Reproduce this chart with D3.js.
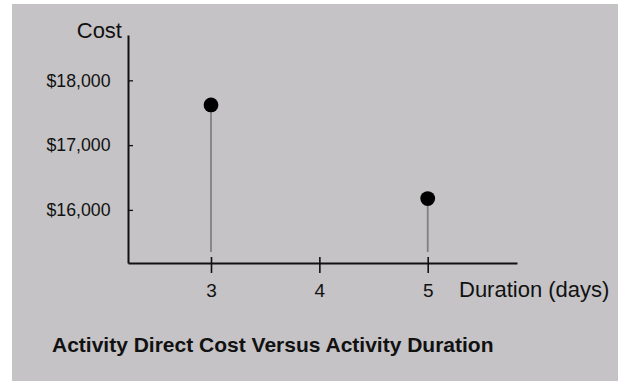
<!DOCTYPE html>
<html>
<head>
<meta charset="utf-8">
<script src="https://cdn.jsdelivr.net/npm/d3@7"></script>
<style>
  html, body { margin: 0; padding: 0; background: #ffffff; }
  svg { display: block; }
  text { font-family: "Liberation Sans", Arial, sans-serif; fill: #111; }
</style>
</head>
<body>
<svg id="chart" width="618" height="381"></svg>
<script>
// ---- data ----
const durations = [3, 5];
const costs = [17620, 16175];
const xTickValues = [3, 4, 5];
const yTickValues = [16000, 17000, 18000];
const yTickLabels = ["$16,000", "$17,000", "$18,000"];
const xTitle = "Duration (days)";
const yTitle = "Cost";
const chartTitle = "Activity Direct Cost Versus Activity Duration";

const svg = d3.select("#chart");

// background panel
svg.append("rect")
  .attr("x", 12).attr("y", 4)
  .attr("width", 606).attr("height", 377)
  .attr("fill", "#c5c3c6");

const x = d3.scaleLinear().domain([2.234, 5.824]).range([128, 517]);
const y = d3.scaleLinear().domain([15180, 18700]).range([263, 35]);

// y axis
const yAxis = d3.axisLeft(y)
  .tickValues(yTickValues)
  .tickFormat((d, i) => yTickLabels[i])
  .tickSizeInner(-5)
  .tickSizeOuter(0)
  .tickPadding(17.5);
const gy = svg.append("g").attr("transform", "translate(128,0)").call(yAxis);
gy.select(".domain").attr("stroke", "#111").attr("stroke-width", 2);
gy.selectAll(".tick line").attr("stroke", "#111").attr("stroke-width", 1.3);
gy.selectAll(".tick text")
  .attr("font-size", 19)
  .attr("font-family", "Liberation Sans, Arial, sans-serif")
  .attr("fill", "#111")
  .attr("textLength", 64)
  .attr("lengthAdjust", "spacingAndGlyphs")
  .attr("dy", "0.3em");

// x axis
const xAxis = d3.axisBottom(x)
  .tickValues(xTickValues)
  .tickFormat(d3.format("d"))
  .tickSizeInner(10)
  .tickSizeOuter(0);
const gx = svg.append("g").attr("transform", "translate(0,263)").call(xAxis);
gx.select(".domain").attr("stroke", "#111").attr("stroke-width", 2);
gx.selectAll(".tick line").attr("stroke", "#111").attr("stroke-width", 1.6).attr("y1", -6);
gx.selectAll(".tick text")
  .attr("font-size", 19)
  .attr("font-family", "Liberation Sans, Arial, sans-serif")
  .attr("fill", "#111")
  .attr("y", 34).attr("dy", 0);

// axis titles
svg.append("text")
  .attr("x", 122).attr("y", 37.5)
  .attr("text-anchor", "end")
  .attr("font-size", 22)
  .text(yTitle);

svg.append("text")
  .attr("x", 459).attr("y", 297)
  .attr("font-size", 22)
  .text(xTitle);

// stems
const pts = durations.map((d, i) => ({ d, c: costs[i] }));
svg.selectAll("line.stem").data(pts).enter().append("line")
  .attr("class", "stem")
  .attr("x1", p => x(p.d)).attr("x2", p => x(p.d))
  .attr("y1", p => y(p.c))
  .attr("y2", y.range()[0] - 11)
  .attr("stroke", "#808080").attr("stroke-width", 1.8);

// points
svg.selectAll("circle.pt").data(pts).enter().append("circle")
  .attr("class", "pt")
  .attr("cx", p => x(p.d)).attr("cy", p => y(p.c))
  .attr("r", 7.4)
  .attr("fill", "#000");

// title
svg.append("text")
  .attr("x", 52).attr("y", 352)
  .attr("font-size", 21)
  .attr("font-weight", "bold")
  .text(chartTitle);
</script>
</body>
</html>
